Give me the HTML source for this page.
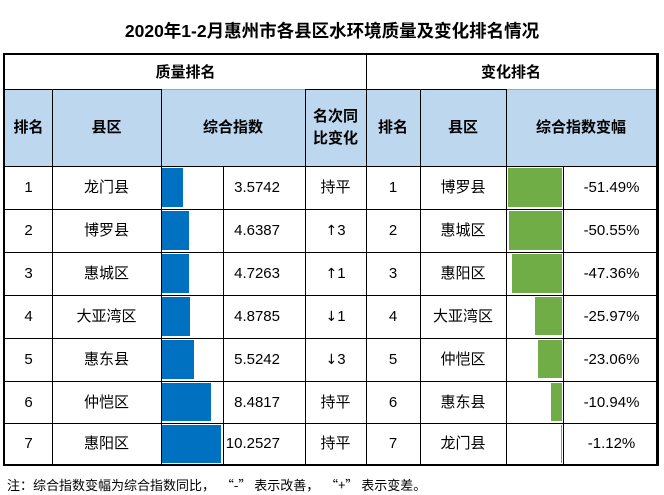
<!DOCTYPE html>
<html>
<head>
<meta charset="utf-8">
<style>
html,body{margin:0;padding:0;background:#fff;}
body{width:664px;height:495px;position:relative;overflow:hidden;
font-family:"Liberation Sans","Noto Sans CJK SC",sans-serif;color:#000;}
.a{position:absolute;}
.h{position:absolute;background:#000;height:1px;}
.v{position:absolute;background:#000;width:1px;}
.c{position:absolute;display:flex;align-items:center;justify-content:center;font-size:15px;white-space:nowrap;line-height:1;}
.b{font-weight:bold;}
.bl{position:absolute;background:#0070C0;}
.gr{position:absolute;background:#70AD47;}
.ar{font-family:"DejaVu Sans",sans-serif;font-size:14px;}
</style>
</head>
<body>
<div class="c b" style="left:0;width:664px;top:20px;height:24px;font-size:17.5px;">2020年1-2月惠州市各县区水环境质量及变化排名情况</div>

<!-- header bg -->
<div class="a" style="left:5px;top:89px;width:651px;height:77px;background:#BDD7EE;"></div>

<!-- bars blue -->
<div class="bl" style="left:162px;top:168px;width:21px;height:39px;"></div>
<div class="bl" style="left:162px;top:211px;width:27px;height:39px;"></div>
<div class="bl" style="left:162px;top:254px;width:27px;height:39px;"></div>
<div class="bl" style="left:162px;top:297px;width:28px;height:39px;"></div>
<div class="bl" style="left:162px;top:340px;width:32px;height:39px;"></div>
<div class="bl" style="left:162px;top:383px;width:49px;height:38px;"></div>
<div class="bl" style="left:162px;top:425px;width:59px;height:38px;"></div>

<!-- bars green -->
<div class="gr" style="left:508px;top:168px;width:54px;height:39px;"></div>
<div class="gr" style="left:509px;top:211px;width:53px;height:39px;"></div>
<div class="gr" style="left:512px;top:254px;width:50px;height:39px;"></div>
<div class="gr" style="left:535px;top:297px;width:27px;height:38px;"></div>
<div class="gr" style="left:538px;top:340px;width:24px;height:38px;"></div>
<div class="gr" style="left:551px;top:383px;width:11px;height:38px;"></div>
<div class="gr" style="left:561px;top:425px;width:1px;height:38px;"></div>

<!-- outer border -->
<div class="a" style="left:3px;top:53px;width:655px;height:2px;background:#000;"></div>
<div class="a" style="left:3px;top:464px;width:655px;height:2px;background:#000;"></div>
<div class="a" style="left:3px;top:53px;width:2px;height:413px;background:#000;"></div>
<div class="a" style="left:656px;top:53px;width:3px;height:413px;background:#000;"></div>

<!-- horizontal lines -->
<div class="h" style="left:5px;top:89px;width:156px;"></div>
<div class="h" style="left:161px;top:89px;width:144px;background:#9aa8b4;"></div>
<div class="h" style="left:305px;top:89px;width:201px;"></div>
<div class="h" style="left:506px;top:89px;width:150px;background:#9aa8b4;"></div>
<div class="h" style="left:5px;top:166px;width:651px;"></div>
<div class="h" style="left:5px;top:209px;width:651px;"></div>
<div class="h" style="left:5px;top:252px;width:651px;"></div>
<div class="h" style="left:5px;top:295px;width:651px;"></div>
<div class="h" style="left:5px;top:338px;width:651px;"></div>
<div class="h" style="left:5px;top:381px;width:651px;"></div>
<div class="h" style="left:5px;top:423px;width:651px;"></div>

<!-- vertical lines -->
<div class="v" style="left:52px;top:89px;height:375px;"></div>
<div class="v" style="left:161px;top:89px;height:375px;"></div>
<div class="v" style="left:223px;top:166px;height:298px;"></div>
<div class="v" style="left:305px;top:89px;height:375px;"></div>
<div class="v" style="left:366px;top:55px;height:409px;"></div>
<div class="v" style="left:420px;top:89px;height:375px;"></div>
<div class="v" style="left:506px;top:89px;height:375px;"></div>
<div class="v" style="left:563px;top:166px;height:298px;"></div>

<!-- group headers -->
<div class="c b" style="left:5px;width:361px;top:55px;height:34px;">质量排名</div>
<div class="c b" style="left:366px;width:290px;top:55px;height:34px;">变化排名</div>

<!-- column headers -->
<div class="c b" style="left:5px;width:47px;top:89px;height:77px;">排名</div>
<div class="c b" style="left:52px;width:109px;top:89px;height:77px;">县区</div>
<div class="c b" style="left:161px;width:144px;top:89px;height:77px;">综合指数</div>
<div class="c b" style="left:305px;width:61px;top:89px;height:77px;flex-direction:column;line-height:22px;">名次同<br>比变化</div>
<div class="c b" style="left:366px;width:54px;top:89px;height:77px;">排名</div>
<div class="c b" style="left:420px;width:86px;top:89px;height:77px;">县区</div>
<div class="c b" style="left:506px;width:150px;top:89px;height:77px;">综合指数变幅</div>

<!-- rows -->
<!-- row 1 -->
<div class="c" style="left:5px;width:47px;top:166px;height:43px;">1</div>
<div class="c" style="left:52px;width:109px;top:166px;height:43px;">龙门县</div>
<div class="c" style="left:223px;width:57px;top:166px;height:43px;justify-content:flex-end;">3.5742</div>
<div class="c" style="left:305px;width:61px;top:166px;height:43px;">持平</div>
<div class="c" style="left:366px;width:54px;top:166px;height:43px;">1</div>
<div class="c" style="left:420px;width:86px;top:166px;height:43px;">博罗县</div>
<div class="c" style="left:565px;width:93px;top:166px;height:43px;">-51.49%</div>
<!-- row 2 -->
<div class="c" style="left:5px;width:47px;top:209px;height:43px;">2</div>
<div class="c" style="left:52px;width:109px;top:209px;height:43px;">博罗县</div>
<div class="c" style="left:223px;width:57px;top:209px;height:43px;justify-content:flex-end;">4.6387</div>
<div class="c" style="left:305px;width:61px;top:209px;height:43px;"><span class="ar">↑</span>3</div>
<div class="c" style="left:366px;width:54px;top:209px;height:43px;">2</div>
<div class="c" style="left:420px;width:86px;top:209px;height:43px;">惠城区</div>
<div class="c" style="left:565px;width:93px;top:209px;height:43px;">-50.55%</div>
<!-- row 3 -->
<div class="c" style="left:5px;width:47px;top:252px;height:43px;">3</div>
<div class="c" style="left:52px;width:109px;top:252px;height:43px;">惠城区</div>
<div class="c" style="left:223px;width:57px;top:252px;height:43px;justify-content:flex-end;">4.7263</div>
<div class="c" style="left:305px;width:61px;top:252px;height:43px;"><span class="ar">↑</span>1</div>
<div class="c" style="left:366px;width:54px;top:252px;height:43px;">3</div>
<div class="c" style="left:420px;width:86px;top:252px;height:43px;">惠阳区</div>
<div class="c" style="left:565px;width:93px;top:252px;height:43px;">-47.36%</div>
<!-- row 4 -->
<div class="c" style="left:5px;width:47px;top:295px;height:43px;">4</div>
<div class="c" style="left:52px;width:109px;top:295px;height:43px;">大亚湾区</div>
<div class="c" style="left:223px;width:57px;top:295px;height:43px;justify-content:flex-end;">4.8785</div>
<div class="c" style="left:305px;width:61px;top:295px;height:43px;"><span class="ar">↓</span>1</div>
<div class="c" style="left:366px;width:54px;top:295px;height:43px;">4</div>
<div class="c" style="left:420px;width:86px;top:295px;height:43px;">大亚湾区</div>
<div class="c" style="left:565px;width:93px;top:295px;height:43px;">-25.97%</div>
<!-- row 5 -->
<div class="c" style="left:5px;width:47px;top:338px;height:43px;">5</div>
<div class="c" style="left:52px;width:109px;top:338px;height:43px;">惠东县</div>
<div class="c" style="left:223px;width:57px;top:338px;height:43px;justify-content:flex-end;">5.5242</div>
<div class="c" style="left:305px;width:61px;top:338px;height:43px;"><span class="ar">↓</span>3</div>
<div class="c" style="left:366px;width:54px;top:338px;height:43px;">5</div>
<div class="c" style="left:420px;width:86px;top:338px;height:43px;">仲恺区</div>
<div class="c" style="left:565px;width:93px;top:338px;height:43px;">-23.06%</div>
<!-- row 6 -->
<div class="c" style="left:5px;width:47px;top:381px;height:42px;">6</div>
<div class="c" style="left:52px;width:109px;top:381px;height:42px;">仲恺区</div>
<div class="c" style="left:223px;width:57px;top:381px;height:42px;justify-content:flex-end;">8.4817</div>
<div class="c" style="left:305px;width:61px;top:381px;height:42px;">持平</div>
<div class="c" style="left:366px;width:54px;top:381px;height:42px;">6</div>
<div class="c" style="left:420px;width:86px;top:381px;height:42px;">惠东县</div>
<div class="c" style="left:565px;width:93px;top:381px;height:42px;">-10.94%</div>
<!-- row 7 -->
<div class="c" style="left:5px;width:47px;top:423px;height:41px;">7</div>
<div class="c" style="left:52px;width:109px;top:423px;height:41px;">惠阳区</div>
<div class="c" style="left:223px;width:57px;top:423px;height:41px;justify-content:flex-end;">10.2527</div>
<div class="c" style="left:305px;width:61px;top:423px;height:41px;">持平</div>
<div class="c" style="left:366px;width:54px;top:423px;height:41px;">7</div>
<div class="c" style="left:420px;width:86px;top:423px;height:41px;">龙门县</div>
<div class="c" style="left:565px;width:93px;top:423px;height:41px;">-1.12%</div>

<!-- footnote -->
<div class="a" style="left:7px;top:476px;font-size:13px;line-height:18px;white-space:pre;font-family:'Noto Sans CJK SC','Liberation Sans',sans-serif;">注：综合指数变幅为综合指数同比，  “-” 表示改善，  “+” 表示变差。</div>
</body>
</html>
